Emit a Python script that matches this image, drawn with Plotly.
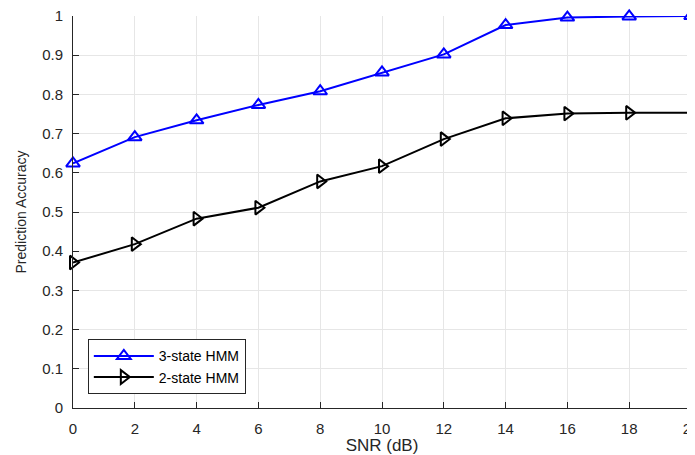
import plotly.graph_objects as go

snr = [0, 2, 4, 6, 8, 10, 12, 14, 16, 18, 20]
acc_3state = [0.624, 0.691, 0.734, 0.773, 0.808, 0.856, 0.902, 0.977, 0.996, 0.999, 1.0]
acc_2state = [0.371, 0.418, 0.483, 0.511, 0.578, 0.617, 0.686, 0.739, 0.751, 0.753, 0.753]
y_ticks = [0, 0.1, 0.2, 0.3, 0.4, 0.5, 0.6, 0.7, 0.8, 0.9, 1]
y_labels = ["0", "0.1", "0.2", "0.3", "0.4", "0.5", "0.6", "0.7", "0.8", "0.9", "1"]

fig = go.Figure()
fig.add_trace(go.Scatter(
    x=snr, y=acc_3state, name="3-state HMM", mode="lines+markers",
    line=dict(color="#0000ff", width=2),
    marker=dict(symbol="triangle-up-open", size=12, color="#0000ff", line=dict(width=2, color="#0000ff")),
    cliponaxis=False,
))
fig.add_trace(go.Scatter(
    x=snr, y=acc_2state, name="2-state HMM", mode="lines+markers",
    line=dict(color="#000000", width=2),
    marker=dict(symbol="triangle-right-open", size=12, color="#000000", line=dict(width=2, color="#000000")),
    cliponaxis=False,
))

axis_font = dict(family="Liberation Sans, Arial, sans-serif", size=15, color="#262626")
fig.update_layout(
    width=687, height=447,
    margin=dict(l=65, r=4, t=8, b=47),
    paper_bgcolor="white", plot_bgcolor="white",
    font=axis_font,
    showlegend=True,
    legend=dict(
        x=0.024, y=0.035, xanchor="left", yanchor="bottom",
        bgcolor="white", bordercolor="#262626", borderwidth=1,
        font=dict(family="Liberation Sans, Arial, sans-serif", size=14, color="#000000"),
        tracegroupgap=0, itemwidth=60,
    ),
    xaxis=dict(
        range=[0, 20], tickvals=snr, ticktext=[str(v) for v in snr],
        ticks="inside", ticklen=6, tickcolor="#262626",
        showline=True, linecolor="#262626", linewidth=1,
        showgrid=True, gridcolor="#e6e6e6", gridwidth=1, zeroline=False,
        title=dict(text="SNR (dB)", font=dict(size=17, color="#262626"), standoff=5),
        tickfont=axis_font, automargin=False, ticklabeloverflow="allow",
        ticklabelstandoff=7,
    ),
    yaxis=dict(
        range=[0, 1], tickvals=y_ticks, ticktext=y_labels,
        ticks="inside", ticklen=6, tickcolor="#262626",
        showline=True, linecolor="#262626", linewidth=1,
        showgrid=True, gridcolor="#e6e6e6", gridwidth=1, zeroline=False,
        title=dict(text="Prediction Accuracy", font=dict(size=14, color="#262626"), standoff=12),
        tickfont=axis_font, automargin=False, ticklabeloverflow="allow",
        ticklabelstandoff=6,
    ),
)
fig.write_html("out.html")
